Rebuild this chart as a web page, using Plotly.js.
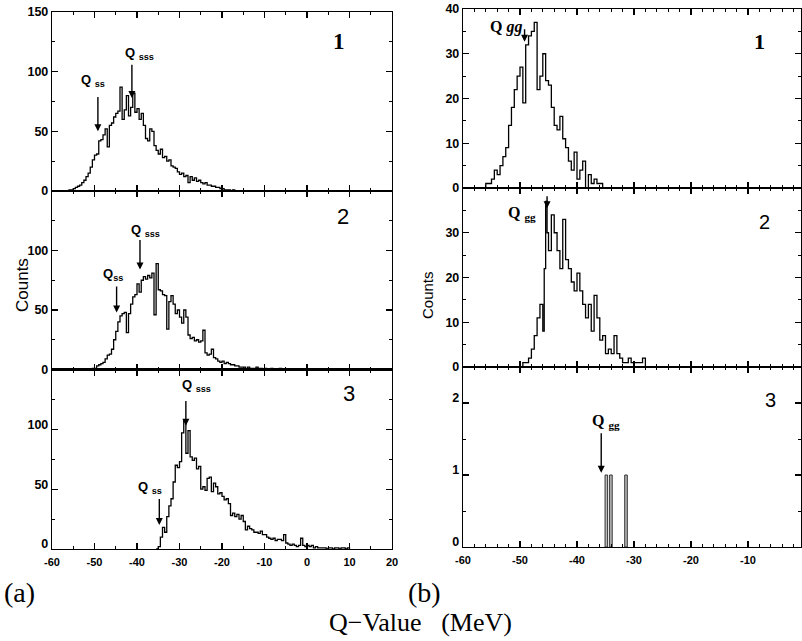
<!DOCTYPE html>
<html>
<head>
<meta charset="utf-8">
<script src="https://cdn.plot.ly/plotly-3.0.1.min.js"></script>
<style>html,body{margin:0;padding:0;background:#fff;}</style>
</head>
<body>
<div id="chart" style="width:802px;height:641px;"></div>
<script>
// ---------- data (bin left edges and counts) ----------
const leftA1Edges = [-56.5,-56,-55.5,-55,-54.5,-54,-53.5,-53,-52.5,-52,
  -51.5,-51,-50.5,-50,-49.5,-49,-48.5,-48,-47.5,-47,
  -46.5,-46,-45.5,-45,-44.5,-44,-43.5,-43,-42.5,-42,
  -41.5,-41,-40.5,-40,-39.5,-39,-38.5,-38,-37.5,-37,
  -36.5,-36,-35.5,-35,-34.5,-34,-33.5,-33,-32.5,-32,
  -31.5,-31,-30.5,-30,-29.5,-29,-28.5,-28,-27.5,-27,
  -26.5,-26,-25.5,-25,-24.5,-24,-23.5,-23,-22.5,-22,
  -21.5,-21,-20.5,-20,-19.5,-19,-18.5,-18,-17.5,-17];
const leftA1Counts = [0,1,1,2,3,4,5,7,9,12,
  15,20,26,30,31,42,43,47,52,37,
  55,57,62,65,67,87,60,68,80,63,
  70,82,66,69,60,65,55,44,42,52,
  50,38,34,31,35,28,29,25,26,21,
  20,19,16,14,15,12,13,7,12,9,
  11,8,9,7,6,7,5,5,4,4,
  3,3,2,2,1,1,1,0,1,0];

const leftA2Edges = [-51,-50.5,-50,-49.5,-49,-48.5,-48,-47.5,-47,-46.5,
  -46,-45.5,-45,-44.5,-44,-43.5,-43,-42.5,-42,-41.5,
  -41,-40.5,-40,-39.5,-39,-38.5,-38,-37.5,-37,-36.5,
  -36,-35.5,-35,-34.5,-34,-33.5,-33,-32.5,-32,-31.5,
  -31,-30.5,-30,-29.5,-29,-28.5,-28,-27.5,-27,-26.5,
  -26,-25.5,-25,-24.5,-24,-23.5,-23,-22.5,-22,-21.5,
  -21,-20.5,-20,-19.5,-19,-18.5,-18,-17.5,-17,-16.5,
  -16,-15.5,-15,-14.5,-14,-13.5,-13,-12.5,-12,-11.5,
  -11,-10.5,-10,-9.5,-9,-8.5,-8,-7.5,-7,-6.5,-6];
const leftA2Counts = [0,1,1,3,4,5,6,9,12,13,
  17,25,32,40,45,47,48,31,47,55,
  61,63,72,65,75,78,76,79,77,81,
  46,89,67,66,63,62,34,57,62,55,
  47,50,44,39,50,44,29,26,27,24,
  25,23,24,33,14,12,13,17,10,9,
  7,6,7,5,6,5,4,4,3,3,
  2,2,2,1,2,1,1,1,2,1,
  1,0,1,0,0,1,0,0,0,1,0];

const leftA3Edges = [-35.5,-35,-34.5,-34,-33.5,-33,-32.5,-32,-31.5,-31,
  -30.5,-30,-29.5,-29,-28.5,-28,-27.5,-27,-26.5,-26,
  -25.5,-25,-24.5,-24,-23.5,-23,-22.5,-22,-21.5,-21,
  -20.5,-20,-19.5,-19,-18.5,-18,-17.5,-17,-16.5,-16,
  -15.5,-15,-14.5,-14,-13.5,-13,-12.5,-12,-11.5,-11,
  -10.5,-10,-9.5,-9,-8.5,-8,-7.5,-7,-6.5,-6,
  -5.5,-5,-4.5,-4,-3.5,-3,-2.5,-2,-1.5,-1,
  -0.5,0,0.5,1,1.5,2,2.5,3,3.5,4,
  4.5,5,5.5,6,6.5,7,7.5,8,8.5,9,
  9.5,10];
const leftA3Counts = [0,2,10,18,14,27,36,42,56,70,
  68,73,97,108,80,99,77,74,76,67,
  69,50,52,49,59,60,48,55,52,46,
  47,44,41,42,38,28,30,27,29,25,
  28,23,16,19,17,16,14,14,13,15,
  12,12,10,9,8,9,7,8,8,7,
  12,5,4,3,4,3,2,3,9,3,
  2,3,2,3,1,2,1,1,1,1,
  0,1,1,0,1,1,0,1,1,0,
  1,0];

const rightB1Edges = [-56.5,-56,-55.5,-55,-54.5,-54,-53.5,-53,-52.5,-52,
  -51.5,-51,-50.5,-50,-49.5,-49,-48.5,-48,-47.5,-47,
  -46.5,-46,-45.5,-45,-44.5,-44,-43.5,-43,-42.5,-42,
  -41.5,-41,-40.5,-40,-39.5,-39,-38.5,-38,-37.5,-37,
  -36.5,-36,-35.5];
const rightB1Counts = [0,1,1,2,4,3,5,7,9,14,
  18,22,25,27,19,32,34,35,37,22,
  25,30,24,23,18,14,13,16,11,9,
  6,4,8,2,4,6,0,3,1,2,
  1,1,0];

const rightB2Edges = [-50,-49.5,-49,-48.5,-48,-47.5,-47,-46.5,-46,-45.75,
  -45.5,-45.25,-45,-44.5,-44,-43.5,-43,-42.5,-42,-41.5,
  -41,-40.5,-40,-39.5,-39,-38.5,-38,-37.5,-37,-36.5,
  -36,-35.5,-35,-34.5,-34,-33.5,-33,-32.5,-32,-31.5,
  -31,-30.5,-30,-29.5,-29,-28.5,-28];
const rightB2Counts = [0,1,1,2,4,7,11,14,8,22,
  37,30,26,34,30,26,22,33,24,22,
  19,17,21,17,14,11,14,8,16,11,
  6,7,3,4,3,7,3,2,1,1,
  2,1,1,1,1,2,0];

const rightB3Centers = [-34.85, -34.05, -31.4];
const rightB3Counts = [1, 1, 1];

const leftXTicks = [-60,-50,-40,-30,-20,-10,0,10,20];
const leftXTickText = ['-60','-50','-40','-30','-20','-10','0','10','20'];
const rightXTicks = [-60,-50,-40,-30,-20,-10,0];
const rightXTickText = ['-60','-50','-40','-30','-20','-10','0'];
const leftYTicksTop = [0,50,100,150];
const leftYTicks = [0,50,100];
const rightYTicksTop = [0,10,20,30,40];
const rightYTicksMid = [0,10,20,30];
const rightYTicksBot = [0,1,2];

// ---------- layout helpers ----------
const W = 802, H = 641;
const px = v => v / W;
const py = v => 1 - v / H;
const bold = s => '<b>' + s + '</b>';

function stepTrace(edges, counts, xa, ya) {
  return {type:'scatter', mode:'lines', x:edges, y:counts, xaxis:xa, yaxis:ya,
    line:{shape:'hv', color:'black', width:1.3}, hoverinfo:'skip'};
}

const tickFontX = {family:'Liberation Sans', size:11, color:'black'};
const tickFontY = {family:'Liberation Sans', size:12.5, color:'black'};

function xAxis(domain, range, vals, text, minorDt, anchor, showLabels) {
  return {domain, range, anchor, showline:true, linecolor:'black', linewidth:1.2,
    mirror:'allticks', ticks:'inside', ticklen:6, tickwidth:1.2, tickcolor:'black',
    tickmode:'array', tickvals:vals, ticktext:text.map(bold), showticklabels:showLabels,
    ticklabelstandoff:3,
    tickfont:tickFontX, showgrid:false, zeroline:false, fixedrange:true,
    minor:{ticks:'inside', ticklen:3, tickwidth:1, tickcolor:'black', tickmode:'linear', tick0:0, dtick:minorDt, showgrid:false}};
}
function yAxis(domain, range, vals, minorDt, anchor, shift) {
  return {domain, range, anchor, showline:true, linecolor:'black', linewidth:1.2,
    mirror:'allticks', ticks:'inside', ticklen:6, tickwidth:1.2, tickcolor:'black',
    tickmode:'array', tickvals:vals, ticktext:vals.map(v => bold(String(v))),
    ticklabelshift: shift || 0,
    tickfont:tickFontY, showgrid:false, zeroline:false, fixedrange:true,
    minor:{ticks:'inside', ticklen:3, tickwidth:1, tickcolor:'black', tickmode:'linear', tick0:0, dtick:minorDt, showgrid:false}};
}

const LX = [px(52), px(392)];
const RX = [px(463), px(801)];
const L1 = [py(191), py(12)], L2 = [py(369.5), py(191)], L3 = [py(549), py(369.5)];
const R1 = [py(188), py(9)], R2 = [py(367), py(188)], R3 = [py(547), py(367)];

const data = [
  stepTrace(leftA1Edges, leftA1Counts, 'x', 'y'),
  stepTrace(leftA2Edges, leftA2Counts, 'x2', 'y2'),
  stepTrace(leftA3Edges, leftA3Counts, 'x3', 'y3'),
  stepTrace(rightB1Edges, rightB1Counts, 'x4', 'y4'),
  stepTrace(rightB2Edges, rightB2Counts, 'x5', 'y5'),
  {type:'bar', x:rightB3Centers, y:rightB3Counts, width:0.45, xaxis:'x6', yaxis:'y6',
   marker:{color:'#bbbbbb', line:{color:'#333', width:1}}, hoverinfo:'skip'}
];

function arrow(xr, yr, x, yHead, yTail) {
  return {xref:xr, yref:yr, axref:xr, ayref:yr, x:x, y:yHead, ax:x, ay:yTail,
    showarrow:true, arrowhead:2, arrowsize:1, arrowwidth:1.4, arrowcolor:'black', text:''};
}
function qLabel(xr, yr, x, y, txt, fnt) {
  return {xref:xr, yref:yr, x:x, y:y, xanchor:'center', yanchor:'middle', text:txt, showarrow:false, font:fnt};
}
const qSans = {family:'Liberation Sans', size:13, color:'black'};
const qSerif = {family:'Liberation Serif', size:16, color:'black'};
function paperText(xp, yp, txt, fam, size, weight, angle) {
  return {xref:'paper', yref:'paper', x:px(xp), y:py(yp), xanchor:'center', yanchor:'middle',
    text:txt, showarrow:false, textangle:angle || 0,
    font:{family:fam, size:size, color:'black', weight:weight}};
}

const annotations = [
  // left arrows and labels
  arrow('x','y',-49.2,50,80), qLabel('x','y',-50.3,93,'<b>Q <sub>ss</sub></b>',qSans),
  arrow('x','y',-41.2,78,107), qLabel('x','y',-39.3,115,'<b>Q <sub>sss</sub></b>',qSans),
  arrow('x2','y2',-44.8,48,71), qLabel('x2','y2',-45.6,80,'<b>Q<sub>ss</sub></b>',qSans),
  arrow('x2','y2',-39.3,84,110), qLabel('x2','y2',-38.1,117,'<b>Q <sub>sss</sub></b>',qSans),
  arrow('x3','y3',-34.75,20,43), qLabel('x3','y3',-36.9,51,'<b>Q <sub>ss</sub></b>',qSans),
  arrow('x3','y3',-28.5,103,125), qLabel('x3','y3',-25.9,137,'<b>Q <sub>sss</sub></b>',qSans),
  // right arrows and labels
  arrow('x4','y4',-49.2,32.7,35.8), qLabel('x4','y4',-52.5,36,'<b>Q <i>gg</i></b>',qSerif),
  arrow('x5','y5',-45.25,35.5,38.5), qLabel('x5','y5',-49.6,34.4,'<b>Q <sub>gg</sub></b>',qSerif),
  arrow('x6','y6',-35.75,1.03,1.6), qLabel('x6','y6',-34.9,1.75,'<b>Q <sub>gg</sub></b>',qSerif),
  // panel numbers
  paperText(339, 42, '<b>1</b>', 'Liberation Serif', 23, 400),
  paperText(343, 216, '2', 'Liberation Sans', 22, 400),
  paperText(349, 393, '3', 'Liberation Sans', 22, 400),
  paperText(759, 42, '<b>1</b>', 'Liberation Serif', 22, 400),
  paperText(764, 222, '2', 'Liberation Sans', 20, 400),
  paperText(770, 400, '3', 'Liberation Sans', 20, 400),
  // Counts labels
  paperText(22, 285, 'Counts', 'Liberation Sans', 17, 400, -90),
  paperText(427, 295, 'Counts', 'Liberation Sans', 15, 400, -90),
  // (a), (b), axis title
  paperText(19, 592, '(a)', 'Liberation Serif', 28, 400),
  paperText(424, 592, '(b)', 'Liberation Serif', 28, 400),
  paperText(420, 622, 'Q\u2212Value&nbsp;&nbsp;&nbsp;(MeV)', 'Liberation Serif', 26, 400)
];

const layout = {
  width:W, height:H, margin:{l:0,r:0,t:0,b:0}, paper_bgcolor:'white', plot_bgcolor:'white',
  showlegend:false, font:{family:'Liberation Sans', color:'black'},
  xaxis: xAxis(LX, [-60,20], leftXTicks, leftXTickText, 5, 'y', false),
  yaxis: yAxis(L1, [0,150], leftYTicksTop, 25, 'x'),
  xaxis2: xAxis(LX, [-60,20], leftXTicks, leftXTickText, 5, 'y2', false),
  yaxis2: yAxis(L2, [0,150], leftYTicks, 25, 'x2'),
  xaxis3: xAxis(LX, [-60,20], leftXTicks, leftXTickText, 5, 'y3', true),
  yaxis3: yAxis(L3, [0,150], leftYTicks, 25, 'x3', -5),
  xaxis4: xAxis(RX, [-60,-0.7], rightXTicks, rightXTickText, 2, 'y4', false),
  yaxis4: yAxis(R1, [0,40], rightYTicksTop, 5, 'x4'),
  xaxis5: xAxis(RX, [-60,-0.7], rightXTicks, rightXTickText, 2, 'y5', false),
  yaxis5: yAxis(R2, [0,40], rightYTicksMid, 5, 'x5'),
  xaxis6: xAxis(RX, [-60,-0.7], rightXTicks, rightXTickText, 2, 'y6', true),
  yaxis6: yAxis(R3, [0,2.5], rightYTicksBot, 0.5, 'x6', -5),
  annotations: annotations,
  bargap: 0
};

Plotly.newPlot('chart', data, layout, {displayModeBar:false, staticPlot:true});
</script>
</body>
</html>
